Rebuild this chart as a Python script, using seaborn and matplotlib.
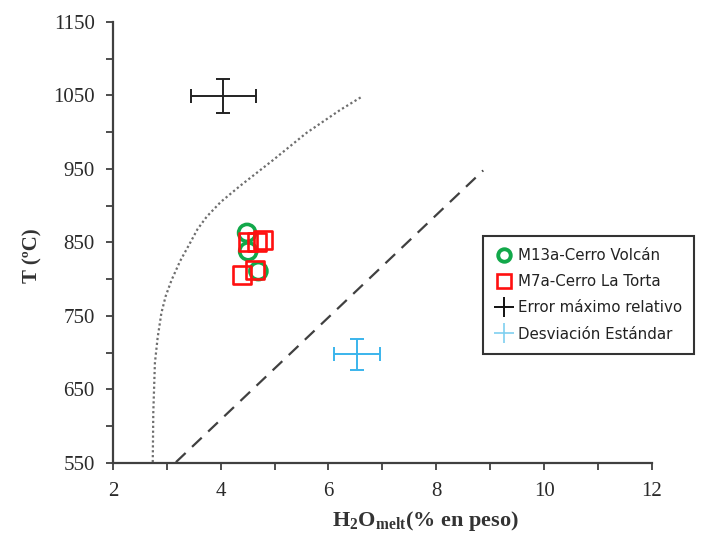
import matplotlib
matplotlib.use('Agg')
import matplotlib.pyplot as plt
import numpy as np
import pandas as pd
import seaborn as sns
from matplotlib.ticker import MultipleLocator, FixedLocator
from matplotlib.lines import Line2D

sns.set_style('white')
plt.rcParams['font.family'] = ['DejaVu Sans']
plt.rcParams['mathtext.fontset'] = 'custom'
plt.rcParams['mathtext.rm'] = 'Liberation Serif'
plt.rcParams['mathtext.bf'] = 'Liberation Serif:bold'

# M13a-Cerro Volcan (green circles)
volcan_x = [4.49, 4.51, 4.70]
volcan_t = [863, 838, 811]
# M7a-Cerro La Torta (red squares)
torta_x = [4.51, 4.67, 4.79, 4.39, 4.64]
torta_t = [851, 851, 853, 806, 812]

# dotted curve
dot_x = [2.74, 2.75, 2.78, 2.83, 2.90, 2.98, 3.09, 3.25, 3.43, 3.57, 3.74, 4.0,
         4.36, 4.97, 5.59, 6.21, 6.61]
dot_t = [551, 618, 686, 720, 754, 777, 799, 825, 849, 868, 885, 905,
         927, 962, 999, 1030, 1048]
# dashed line
dash_x = [3.17, 8.87]
dash_t = [551, 948]

# error crosses
err_max = (4.05, 1049, 0.6, 23)
err_std = (6.53, 698, 0.43, 21)

yticks = [550, 650, 750, 850, 950, 1050, 1150]

fig, ax = plt.subplots(figsize=(7.01, 5.37), dpi=100)
fig.subplots_adjust(left=0.161, right=0.930, bottom=0.138, top=0.959)

sns.lineplot(x=dot_x, y=dot_t, sort=False, ax=ax, color='#6e6e6e', lw=1.6,
             linestyle=(0, (1, 1.2)), legend=False)
sns.lineplot(x=dash_x, y=dash_t, sort=False, ax=ax, color='#404040', lw=1.6,
             linestyle=(0, (6, 4)), legend=False)

sns.scatterplot(x=volcan_x, y=volcan_t, ax=ax, marker='o', s=150,
                facecolors='none', edgecolor='#12a84a', linewidth=2.6, zorder=3)
sns.scatterplot(x=torta_x, y=torta_t, ax=ax, marker='s', s=170,
                facecolors='none', edgecolor='#ff1010', linewidth=1.9, zorder=4)

ax.errorbar(err_max[0], err_max[1], xerr=err_max[2], yerr=err_max[3],
            fmt='none', ecolor='#222222', elinewidth=1.4, capsize=5, capthick=1.4)
ax.errorbar(err_std[0], err_std[1], xerr=err_std[2], yerr=err_std[3],
            fmt='none', ecolor='#3ab4ec', elinewidth=1.4, capsize=5, capthick=1.4)

ax.set_xlim(2, 12)
ax.set_ylim(550, 1150)
ax.xaxis.set_major_locator(MultipleLocator(2))
ax.xaxis.set_minor_locator(MultipleLocator(1))
ax.yaxis.set_major_locator(FixedLocator(yticks))
ax.yaxis.set_minor_locator(FixedLocator([t + 50 for t in yticks[:-1]]))
ax.tick_params(which='both', direction='out', length=5, width=1.3, color='#404040',
               bottom=True, left=True)
ax.tick_params(labelsize=15, colors='#404040')
ax.tick_params(axis='y', pad=8)
ax.tick_params(axis='x', pad=9)
for lab in ax.get_xticklabels() + ax.get_yticklabels():
    lab.set_fontfamily('Liberation Serif')
    lab.set_color('#2a2a2a')

for s in ['top', 'right']:
    ax.spines[s].set_visible(False)
for s in ['left', 'bottom']:
    ax.spines[s].set_color('#404040')
    ax.spines[s].set_linewidth(1.6)

ax.set_ylabel('T (ºC)', fontfamily='Liberation Serif', fontweight='bold',
              fontsize=15, color='#333333')
ax.yaxis.set_label_coords(-0.13, 0.47)
ax.set_xlabel(r'H$_\mathbf{2}$O$_\mathbf{melt}$(% en peso)', fontfamily='Liberation Serif',
              fontweight='bold', fontsize=16, color='#333333')
ax.xaxis.set_label_coords(0.58, -0.105)

handles = [
    Line2D([], [], marker='o', ls='none', mfc='none', mec='#12a84a', mew=2.8, ms=9),
    Line2D([], [], marker='s', ls='none', mfc='none', mec='#ff1010', mew=1.9, ms=10),
    Line2D([], [], marker='+', ls='none', color='#111111', mew=1.4, ms=15),
    Line2D([], [], marker='+', ls='none', color='#7fd0f0', mew=1.2, ms=15),
]
labels = ['M13a-Cerro Volcán', 'M7a-Cerro La Torta', 'Error máximo relativo',
          'Desviación Estándar']
leg = ax.legend(handles, labels, loc='upper left', bbox_to_anchor=(0.686, 0.515),
                fontsize=10.8, frameon=True, fancybox=False, edgecolor='black',
                handletextpad=0.35, labelspacing=0.75, borderpad=0.8, handlelength=1.2,
                borderaxespad=0)
leg.get_frame().set_linewidth(1.5)
for t in leg.get_texts():
    t.set_color('#222222')

fig.savefig('out.png', dpi=100)
